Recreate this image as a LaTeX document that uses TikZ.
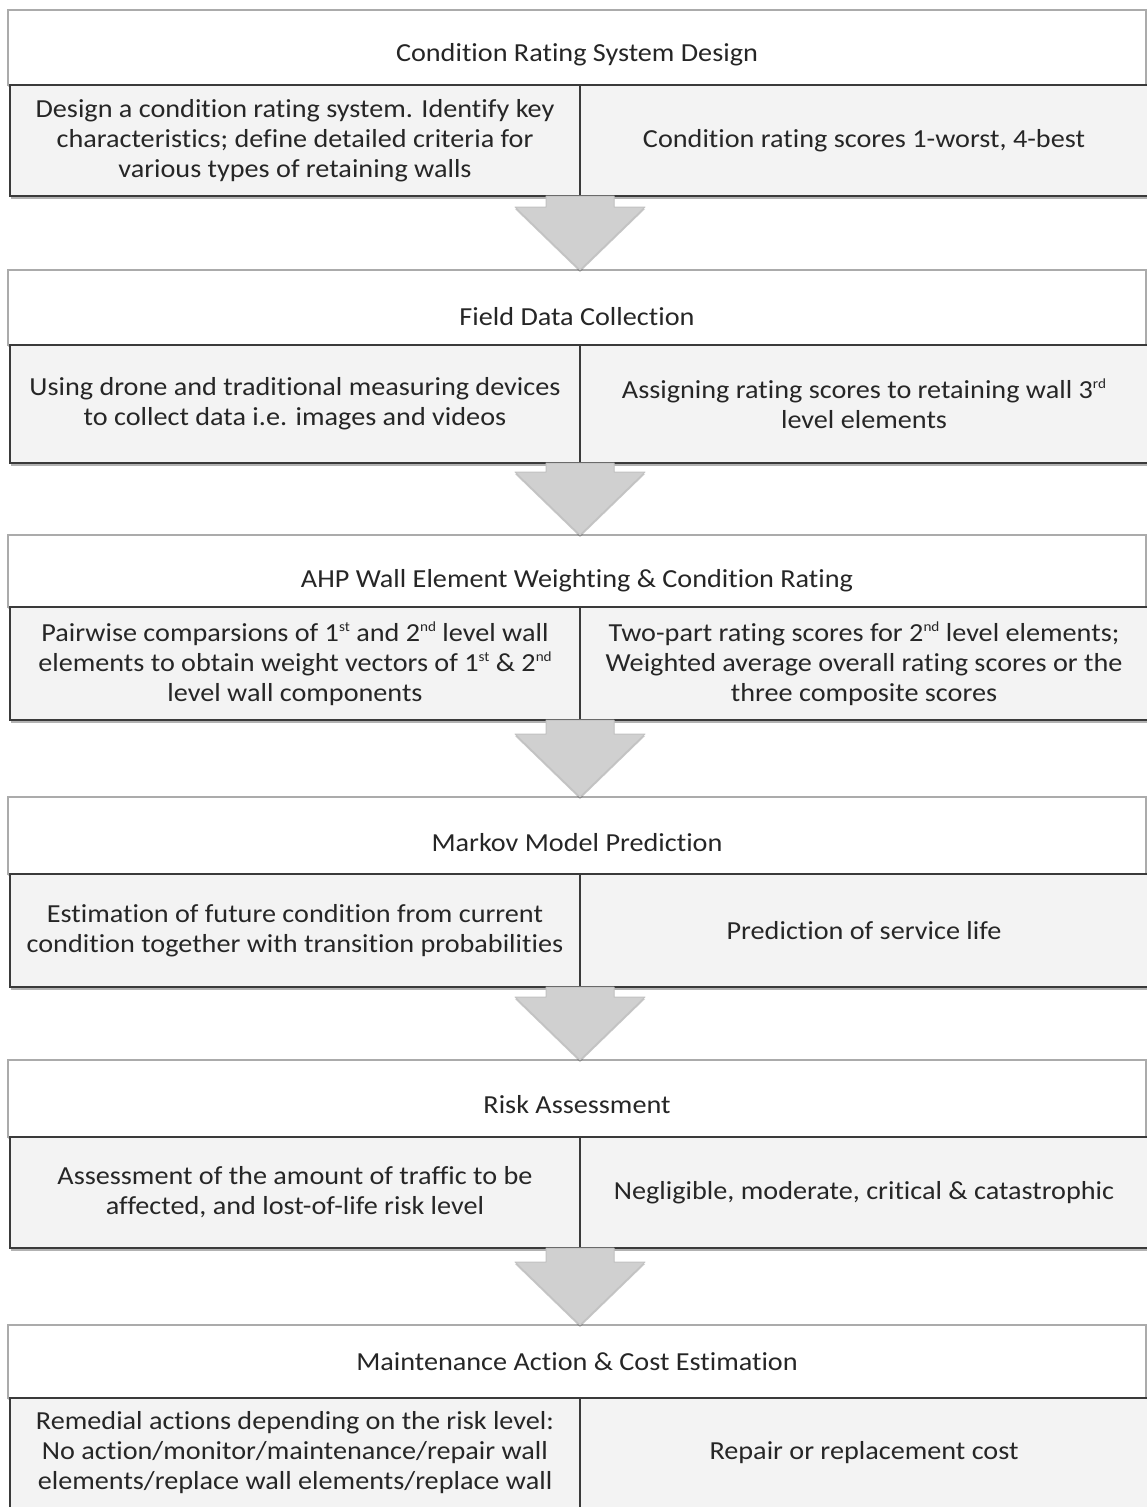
\documentclass[tikz,border=0pt]{standalone}
\usepackage{fontspec}
\setmainfont{Carlito}[Ligatures=NoCommon, FakeStretch=1.085]
\usetikzlibrary{calc,shadows}

\definecolor{txt}{HTML}{262626}
\definecolor{panelline}{HTML}{ABABAB}
\definecolor{boxline}{HTML}{3A3A3A}
\definecolor{boxfill}{HTML}{F3F3F3}
\definecolor{arrowfill}{HTML}{D0D0D0}
\definecolor{arrowline}{HTML}{C2C2C2}

% small raised ordinal suffix
\newcommand\ordsup[1]{\raisebox{0.38em}{\fontsize{14}{14}\selectfont #1}}

\tikzset{
  every node/.style={text=txt, font=\fontsize{26}{30}\selectfont, inner sep=0pt, outer sep=0pt},
  stagetitle/.style={draw=panelline, line width=2pt, fill=white, minimum width=1138,
    anchor=north west, align=center,
    drop shadow={shadow xshift=0pt, shadow yshift=-2pt, opacity=.18, fill=black}},
  stagebox/.style={draw=boxline, line width=2pt, fill=boxfill, anchor=north west, align=center,
    drop shadow={shadow xshift=1pt, shadow yshift=-3pt, opacity=.30, fill=black}},
  flowarrow/.style={fill=arrowfill, draw=arrowline, line width=1pt, line join=round,
    drop shadow={shadow xshift=0pt, shadow yshift=-2pt, opacity=.22, fill=black}}
}

% one stage: a wide title bar with two description boxes underneath
% #1 id, #2 top of title bar, #3 title height, #4 box height,
% #5 title, #6 left text, #7 right text, #8 title baseline below bar centre
\newcommand\stagerow[8]{%
  \node[stagetitle, minimum height=#3] (t#1) at (8,#2)
    {\raisebox{-#8pt}[0pt][0pt]{#5}};
  \node[stagebox, minimum width=570, minimum height=#4] (l#1)
    at ($(t#1.south west)+(2,0)$) {#6};
  \node[stagebox, minimum width=568, minimum height=#4] (r#1)
    at (l#1.north east) {#7};
}

% block arrow from the bottom of one stage to the title of the next
\newcommand\stagearrow[2]{%
  \coordinate (#1top) at (#1.south east);
  \coordinate (#1tip) at (#1top |- #2.north);
  \path[flowarrow] ($(#1top)+(-34,0)$) -- ($(#1tip)+(-34,-63)$) -- ($(#1tip)+(-65,-63)$)
    -- (#1tip) -- ($(#1tip)+(65,-63)$) -- ($(#1tip)+(34,-63)$) -- ($(#1top)+(34,0)$) -- cycle;
}

\begin{document}
\begin{tikzpicture}[x=1pt,y=-1pt]
\useasboundingbox[fill=white] (0,0) rectangle (1146,1507);

\stagerow{1}{10}{75}{111}{Condition Rating System Design}
  {Design a condition rating system. Identify key\\ characteristics; define detailed criteria for\\ various types of retaining walls}
  {Condition rating scores 1-worst, 4-best}{14}

\stagerow{2}{270}{75}{118}{Field Data Collection}
  {Using drone and traditional measuring devices\\ to collect data i.e. images and videos}
  {Assigning rating scores to retaining wall 3\ordsup{rd}\\ level elements}{18}

\stagerow{3}{535}{72}{113}{AHP Wall Element Weighting \& Condition Rating}
  {Pairwise comparsions of 1\ordsup{st} and 2\ordsup{nd} level wall\\ elements to obtain weight vectors of 1\ordsup{st} \& 2\ordsup{nd}\\ level wall components}
  {Two-part rating scores for 2\ordsup{nd} level elements;\\ Weighted average overall rating scores or the\\ three composite scores}{16}

\stagerow{4}{797}{77}{113}{Markov Model Prediction}
  {Estimation of future condition from current\\ condition together with transition probabilities}
  {Prediction of service life}{16}

\stagerow{5}{1060}{77}{111}{Risk Assessment}
  {Assessment of the amount of traffic to be\\ affected, and lost-of-life risk level}
  {Negligible, moderate, critical \& catastrophic}{15}

\stagerow{6}{1325}{73}{110}{Maintenance Action \& Cost Estimation}
  {Remedial actions depending on the risk level:\\ No action/monitor/maintenance/repair wall\\ elements/replace wall elements/replace wall}
  {Repair or replacement cost}{9}

\stagearrow{l1}{t2}
\stagearrow{l2}{t3}
\stagearrow{l3}{t4}
\stagearrow{l4}{t5}
\stagearrow{l5}{t6}
\end{tikzpicture}
\end{document}
